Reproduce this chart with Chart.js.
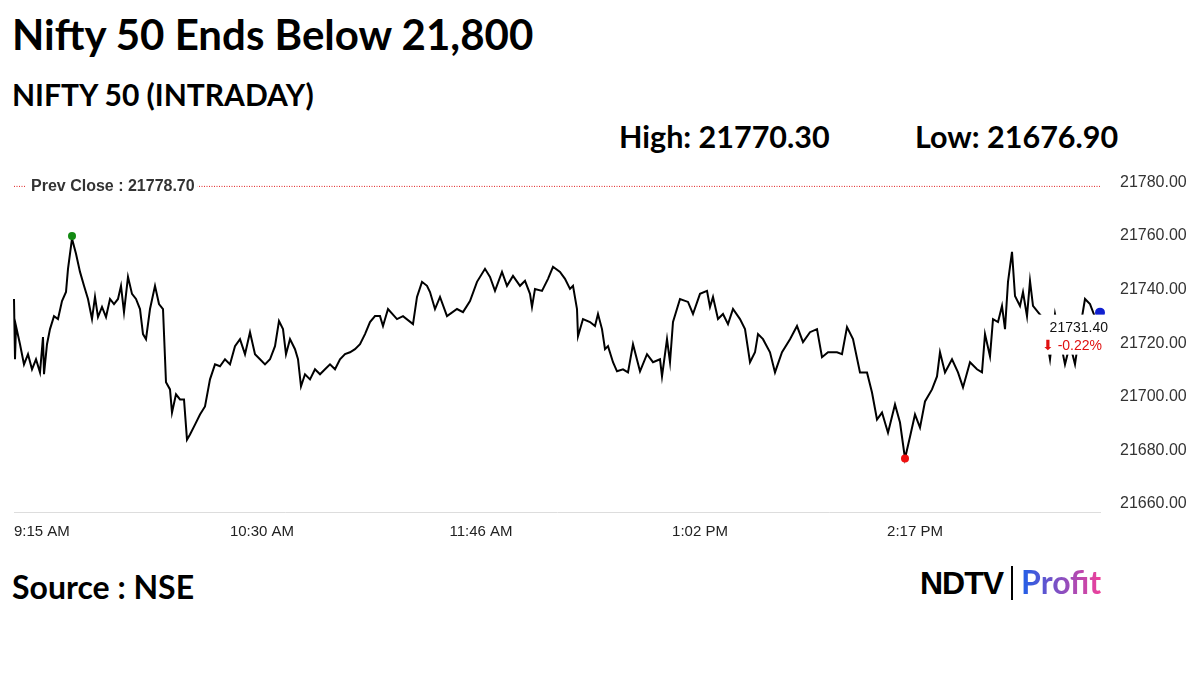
<!DOCTYPE html>
<html><head><meta charset="utf-8">
<script src="https://cdn.jsdelivr.net/npm/chart.js@4/dist/chart.umd.min.js"></script>
<style>
body{margin:0;width:1200px;height:675px;background:#fff;position:relative;overflow:hidden;font-family:Lato,"Open Sans",sans-serif}
.t{position:absolute;font-weight:bold;color:#000;white-space:nowrap}
#wrap{position:absolute;left:0;top:160px;width:1200px;height:390px}
</style></head><body>
<div class="t" style="left:12px;top:9px;font-size:42px">Nifty 50 Ends Below 21,800</div>
<div class="t" style="left:12px;top:76px;font-size:30px">NIFTY 50 (INTRADAY)</div>
<div class="t" style="left:619px;top:118px;font-size:30.5px">High: 21770.30</div>
<div class="t" style="left:915px;top:118px;font-size:30.5px">Low: 21676.90</div>
<div class="t" style="left:12px;top:567px;font-size:32px">Source : NSE</div>
<div class="t" style="left:920px;top:562px;font-size:32px;font-family:'Liberation Sans',sans-serif;letter-spacing:-1px">NDTV<span style="display:inline-block;width:2px;height:34px;background:#000;margin:0 8px;vertical-align:-6px"></span><span style="background:linear-gradient(90deg,#1f5fe8,#f0409a);-webkit-background-clip:text;color:transparent;font-family:Lato,sans-serif;letter-spacing:0">Profit</span></div>
<div id="wrap"><canvas id="c"></canvas></div>
<script>
const tickLabels=['9:15 AM','10:30 AM','11:46 AM','1:02 PM','2:17 PM',''];
const tickPos=[0,248,467,686,901,1086];
const yTicks=[21660,21680,21700,21720,21740,21760,21780];
const prevClose=21778.70;
const lastValue=21731.40, changePct='-0.22%';
const t=[0,1,2,6,10,14,18,22,26,29,30,33,36,40,44,48,52,54,58,62,66,70,74,78,81,84,88,92,96,100,104,107,110,114,118,122,126,129,132,136,141,145,149,152,156,158,162,166,170,173,176,181,186,191,196,201,206,211,216,221,226,231,236,241,246,251,256,261,265,269,272,276,281,284,287,291,296,301,306,311,316,321,326,331,336,341,346,351,356,361,366,369,374,383,389,399,403,408,413,416,421,426,433,443,449,456,463,471,476,481,488,493,499,506,511,516,518,521,528,534,539,546,551,556,559,563,564,569,576,581,584,588,591,594,599,603,609,614,619,626,633,639,646,648,653,656,659,666,674,679,686,693,696,699,704,709,714,719,726,731,736,741,744,749,756,761,768,776,783,789,796,803,808,814,823,828,833,839,846,853,858,863,868,874,881,886,891,896,901,906,911,918,923,926,931,938,944,949,956,963,968,971,976,979,984,988,991,994,998,1001,1006,1009,1013,1016,1019,1024,1028,1031,1036,1041,1046,1051,1056,1061,1066,1071,1076,1081,1086];
const price=[21736.5,21714,21726.4,21719.6,21712.1,21715.9,21710.25,21714,21709.1,21722.25,21708.4,21719.6,21725.25,21730.1,21729,21735.75,21739.1,21747.75,21759,21753.4,21746.6,21741.4,21736.5,21729,21737.25,21729.75,21733.5,21729.75,21736.5,21734.6,21736.5,21741.4,21731.6,21744.75,21738.4,21736.5,21732.75,21723.4,21721.5,21732.75,21741.4,21734.6,21732.75,21705.4,21702.75,21694.1,21700.9,21699,21699,21684,21685.9,21689.6,21693.4,21696.4,21706.5,21712.1,21711.4,21714,21712.1,21718.9,21721.5,21715.9,21724.1,21715.9,21714,21712.1,21714,21718.9,21728.25,21725.25,21715.9,21721.5,21717.75,21714,21703.9,21708.4,21706.5,21710.25,21708.4,21710.25,21712.1,21710.25,21714,21715.9,21716.6,21717.75,21719.6,21723.4,21727.9,21730.1,21730.1,21726.4,21732.75,21729,21730.1,21727.1,21737.25,21742.9,21741.4,21739.1,21732.75,21737.25,21730.1,21732.75,21731.6,21735.75,21742.9,21747.75,21744.75,21739.5,21746.6,21741.4,21745.1,21741.4,21743.25,21738.4,21733.5,21740.25,21739.5,21744,21748.5,21746.6,21744,21740.25,21741.4,21732.75,21722.6,21729,21727.9,21726.4,21730.9,21725.25,21717.75,21718.9,21712.9,21709.5,21710.25,21709.1,21719.6,21709.5,21715.9,21712.9,21714,21707.6,21721.5,21712.9,21727.9,21736.5,21735.4,21730.9,21738.4,21739.5,21733.5,21737.25,21729,21730.9,21727.1,21732.75,21729,21725.25,21712.9,21716.6,21723.4,21721.5,21716.6,21709.1,21716.6,21721.5,21726.4,21720.4,21724.1,21725.25,21714.75,21716.6,21716.6,21715.9,21726,21721.5,21709.1,21709.1,21701.6,21691.5,21694.1,21686.6,21697.1,21690.4,21677,21685.1,21693.4,21688.5,21698.25,21702.75,21707.6,21716.6,21709.1,21714,21709.1,21703.5,21712.9,21710.25,21709.1,21723.4,21715.1,21729,21727.9,21733.9,21725.25,21742.9,21754.1,21737.6,21733.9,21739.1,21730.1,21743.25,21733.9,21731.6,21729.75,21725.25,21714,21730.9,21721.5,21712.1,21719.6,21712.1,21725.25,21736.5,21734.6,21729.75,21731.4];
const highPt={x:58,y:21760}, lowPt={x:891,y:21677}, lastPt={x:1086,y:21731.4};

const overlay={id:'ov',
 beforeDatasetsDraw(ch){const {ctx,chartArea:a,scales:{y}}=ch;const py=y.getPixelForValue(prevClose);
  ctx.save();ctx.strokeStyle='#e02020';ctx.lineWidth=1;ctx.setLineDash([1,1.5]);
  ctx.beginPath();ctx.moveTo(a.left,py+0.5);ctx.lineTo(a.right,py+0.5);ctx.stroke();ctx.setLineDash([]);
  ctx.font='bold 16px "Liberation Sans",Arial';ctx.fillStyle='#fff';const s='Prev Close : 21778.70';
  const w=ctx.measureText(s).width;ctx.fillRect(26,py-10,w+8,20);ctx.fillStyle='#333';ctx.textBaseline='middle';ctx.fillText(s,31,py+1);ctx.restore();},
 afterDatasetsDraw(ch){const {ctx,scales:{x,y}}=ch;const px=x.getPixelForValue(lastPt.x),py=y.getPixelForValue(lastPt.y);
  ctx.save();ctx.fillStyle='#fff';ctx.fillRect(px-62,py+2,70,40);
  ctx.textAlign='right';ctx.textBaseline='middle';ctx.font='14px "Liberation Sans",Arial';ctx.fillStyle='#111';
  ctx.fillText(lastValue.toFixed(2),px+8,py+16);ctx.fillStyle='#e01010';ctx.fillText('⬇ '+changePct,px+2,py+34);ctx.restore();}
};
new Chart(document.getElementById('c'),{type:'scatter',
 data:{datasets:[
  {data:t.map((v,i)=>({x:v,y:price[i]})),showLine:true,borderColor:'#000',borderWidth:2,pointRadius:0,tension:0,order:3},
  {data:[highPt],pointRadius:4,backgroundColor:'#138a13',borderWidth:0,order:1},
  {data:[lowPt],pointRadius:4,backgroundColor:'#f01010',borderWidth:0,order:1},
  {data:[lastPt],pointRadius:5,backgroundColor:'#1020d0',borderWidth:0,order:1}]},
 options:{responsive:true,maintainAspectRatio:false,animation:false,clip:false,
  layout:{padding:{left:14,top:9,right:0,bottom:0}},
  plugins:{legend:{display:false},tooltip:{enabled:false}},
  scales:{
   x:{type:'linear',min:0,max:1086,grid:{display:false,drawTicks:true},border:{color:'#ddd'},
     afterBuildTicks(s){s.ticks=tickPos.map(v=>({value:v}));},
     afterFit(s){s.height=38;s.paddingLeft=0;s.paddingRight=0;},
     ticks:{align:'inner',color:'#222',font:{size:15,family:'"Liberation Sans",Arial'},maxRotation:0,autoSkip:false,
       callback:(v)=>tickLabels[tickPos.indexOf(v)]}},
   y:{position:'right',min:21657,max:21785,grid:{display:false},border:{display:false},
     afterBuildTicks(s){s.ticks=yTicks.map(v=>({value:v}));},
     afterFit(s){s.width=100;s.paddingTop=0;s.paddingBottom=0;},
     ticks:{color:'#333',padding:12,font:{size:16,family:'"Liberation Sans",Arial'},callback:v=>v.toFixed(2)}}}},
 plugins:[overlay]});
</script></body></html>
